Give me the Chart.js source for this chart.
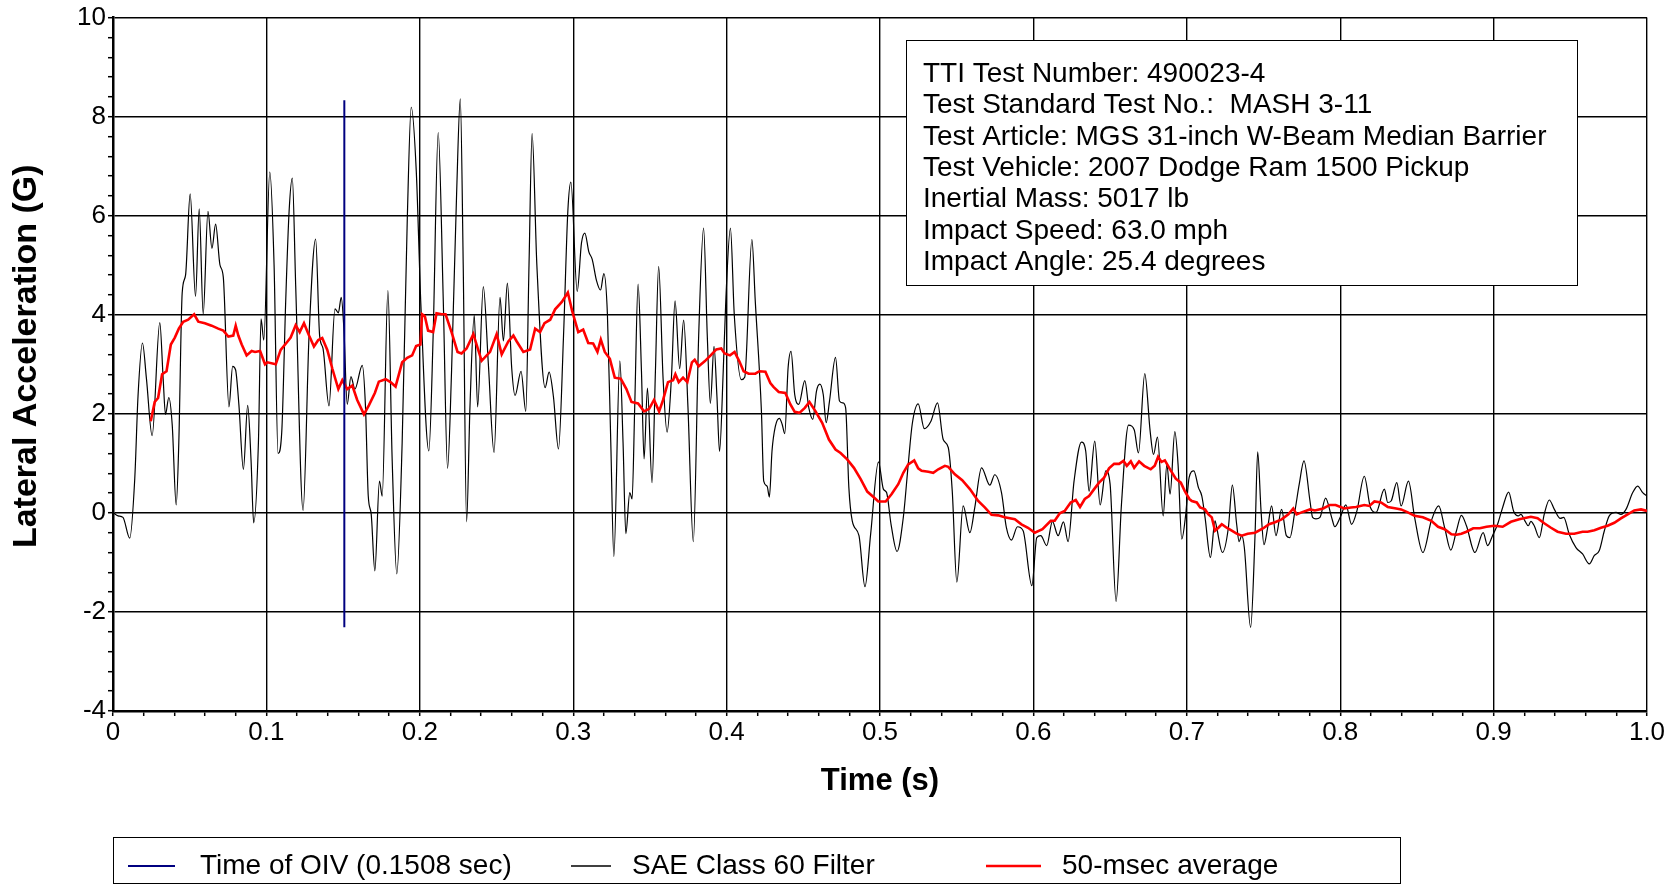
<!DOCTYPE html>
<html>
<head>
<meta charset="utf-8">
<title>Lateral Acceleration</title>
<script src="https://cdn.jsdelivr.net/npm/chart.js@4.4.1/dist/chart.umd.min.js"></script>
<style>
  html, body { margin: 0; padding: 0; background: #fff; }
  #wrap { width: 1679px; height: 885px; }
</style>
</head>
<body>
<div id="wrap"><canvas id="chart" width="1679" height="885"></canvas></div>
<script>
// SAE Class 60 filtered lateral acceleration (time s, accel G)
const sae60Time = [
  0, .0033, .0065, .0109, .0142, .0163, .0192, .0218, .0255, .0305, .0327, .0342, .0364, .0386, .0412, .0429,
  .0451, .0473, .0503, .0538, .0562, .0588, .0619, .0645, .0669, .0697, .0719, .0756, .0780, .0799, .0821, .0850,
  .0878, .0900, .0917, .0948, .0965, .0983, .1022, .1050, .1076, .1100, .1126, .1148, .1169, .1191, .1239, .1278,
  .1321, .1347, .1369, .1408, .1447, .1469, .1488, .1505, .1527, .1551, .1577, .1625, .1646, .1664, .1683, .1707,
  .1737, .1755, .1792, .1820, .1850, .1885, .1918, .1944, .1977, .2007, .2059, .2087, .2120, .2153, .2181, .2207,
  .2240, .2264, .2283, .2305, .2327, .2355, .2377, .2414, .2447, .2484, .2523, .2545, .2571, .2599, .2621, .2660,
  .2691, .2712, .2732, .2763, .2817, .2843, .2871, .2904, .2937, .2965, .2985, .3026, .3054, .3076, .3102, .3124,
  .3152, .3178, .3200, .3223, .3245, .3265, .3304, .3325, .3343, .3369, .3384, .3401, .3423, .3445, .3462, .3484,
  .3514, .3536, .3557, .3586, .3612, .3640, .3664, .3694, .3720, .3748, .3783, .3818, .3850, .3874, .3894, .3918,
  .3937, .3954, .3978, .3995, .4025, .4050, .4096, .4118, .4165, .4187, .4227, .4242, .4264, .4279, .4296, .4318,
  .4344, .4362, .4379, .4401, .4420, .4444, .4470, .4510, .4536, .4562, .4586, .4608, .4630, .4649, .4671, .4710,
  .4736, .4758, .4776, .4797, .4819, .4863, .4902, .4939, .4990, .5022, .5043, .5072, .5111, .5152, .5184, .5210,
  .5249, .5289, .5332, .5375, .5412, .5445, .5471, .5501, .5542, .5586, .5618, .5662, .5716, .5748, .5792, .5824,
  .5857, .5896, .5933, .5990, .6022, .6048, .6087, .6124, .6161, .6196, .6226, .6265, .6313, .6341, .6363, .6400,
  .6435, .6472, .6500, .6539, .6574, .6620, .6657, .6685, .6726, .6761, .6783, .6809, .6846, .6870, .6891, .6922,
  .6943, .6967, .6993, .7015, .7046, .7076, .7098, .7119, .7154, .7184, .7195, .7232, .7271, .7297, .7325, .7341,
  .7358, .7375, .7416, .7445, .7462, .7484, .7503, .7527, .7553, .7581, .7618, .7649, .7672, .7705, .7733, .7764,
  .7803, .7820, .7842, .7868, .7905, .7944, .7965, .8000, .8037, .8074, .8109, .8157, .8197, .8234, .8288, .8310,
  .8332, .8369, .8397, .8445, .8485, .8539, .8594, .8642, .8681, .8721, .8758, .8790, .8823, .8878, .8932, .8961,
  .8993, .9026, .9059, .9098, .9130, .9161, .9178, .9204, .9226, .9243, .9265, .9298, .9330, .9363, .9396, .9435,
  .9457, .9493, .9537, .9580, .9624, .9657, .9689, .9722, .9754, .9798, .9830, .9863, .9907, .9939, .9972, 1.0
];
const sae60Accel = [
  0.01, -0.06, -0.09, -0.51, 0.70, 2.35, 3.43, 2.71, 1.56, 3.84, 2.71, 1.99, 2.33, 1.78, 0.16, 1.42,
  4.44, 4.80, 6.44, 4.37, 6.14, 4.01, 6.09, 5.34, 5.83, 5.01, 4.76, 2.14, 2.96, 2.89, 2.17, 0.88,
  2.17, 1.06, -0.20, 1.42, 3.92, 3.49, 6.88, 5.01, 1.20, 1.63, 4.29, 6.09, 6.76, 4.58, 0.05, 3.58,
  5.53, 3.58, 3.32, 2.16, 4.12, 4.04, 4.35, 3.72, 2.19, 2.75, 2.50, 2.98, 2.14, 0.34, -0.02, -1.17,
  0.64, 0.34, 4.49, 1.06, -1.23, 1.42, 5.88, 8.19, 6.90, 4.20, 1.25, 3.58, 7.68, 4.29, 0.90, 2.86,
  6.45, 8.36, 5.01, -0.18, 2.14, 3.99, 2.14, 4.57, 3.00, 1.22, 4.35, 3.47, 4.64, 2.93, 2.37, 2.86,
  2.05, 5.01, 7.66, 5.01, 2.53, 2.84, 2.35, 1.29, 3.58, 6.09, 6.68, 4.47, 5.45, 5.65, 5.27, 5.12,
  4.69, 4.50, 4.83, 4.01, 1.42, -0.88, 3.07, 1.42, -0.42, 0.41, 0.28, 2.14, 4.62, 2.86, 1.09, 2.52,
  0.61, 2.86, 4.98, 2.71, 1.63, 2.71, 4.28, 2.91, 3.89, 2.14, -0.58, 3.58, 5.75, 3.58, 2.21, 3.36,
  2.35, 1.24, 2.86, 4.30, 5.75, 4.00, 2.69, 2.74, 5.52, 4.27, 2.05, 0.64, 0.54, 0.32, 1.25, 1.75,
  1.91, 1.79, 1.60, 2.93, 3.26, 2.39, 2.19, 2.67, 2.12, 1.89, 2.46, 2.60, 2.39, 1.82, 2.26, 3.14,
  2.26, 2.22, 2.12, 0.51, -0.16, -0.46, -1.49, -0.43, 1.03, 0.48, 0.41, -0.23, -0.78, -0.09, 0.98, 1.79,
  2.20, 1.70, 1.85, 2.22, 1.48, 1.32, 0.44, -1.40, 0.14, -0.40, 0.11, 0.91, 0.56, 0.77, 0.41, -0.30,
  -0.55, -0.28, -0.36, -1.47, -0.50, -0.46, -0.66, -0.17, -0.46, -0.18, -0.58, 0.64, 1.43, 1.25, 0.44, 1.45,
  0.16, 0.85, 0.58, -1.79, 0.17, 1.77, 1.68, 1.21, 2.81, 1.65, 1.18, 1.53, -0.06, 0.98, 0.38, 1.64,
  0.98, -0.53, -0.03, 0.71, 0.85, 0.51, 0.34, -0.09, -0.90, -0.16, -0.30, -0.80, -0.30, 0.56, -0.23, -0.58,
  -0.46, -0.70, -2.31, -0.43, 1.23, 0.04, -0.64, -0.30, 0.14, -0.46, 0.07, -0.46, -0.50, 0.04, 0.58, 1.05,
  0.24, -0.09, -0.12, -0.09, 0.30, -0.09, -0.28, -0.09, 0.16, -0.23, 0.04, 0.74, 0.11, 0.01, 0.48, 0.21,
  0.24, 0.61, 0.14, 0.64, -0.09, -0.80, -0.16, 0.14, -0.30, -0.75, -0.36, -0.05, -0.26, -0.80, -0.40, -0.66,
  -0.46, -0.23, 0.11, 0.42, 0.04, -0.06, -0.03, -0.16, -0.26, -0.17, -0.26, -0.50, -0.03, 0.26, 0.07, -0.11,
  -0.09, -0.43, -0.70, -0.83, -1.03, -0.86, -0.76, -0.36, -0.06, 0.01, -0.03, 0.07, 0.41, 0.54, 0.41, 0.34
];

// 50-msec moving average
const avg50Time = [
  .0246, .0272, .0294, .0320, .0349, .0377, .0403, .0429, .0458, .0490, .0529, .0556, .0599, .0643, .0686, .0719,
  .0752, .0784, .0800, .0817, .0839, .0871, .0904, .0926, .0959, .0991, .1007, .1061, .1093, .1130, .1158, .1191,
  .1217, .1245, .1278, .1310, .1338, .1364, .1397, .1430, .1469, .1495, .1527, .1560, .1592, .1636, .1668, .1707,
  .1733, .1777, .1809, .1842, .1885, .1918, .1950, .1976, .2004, .2015, .2033, .2054, .2087, .2109, .2142, .2168,
  .2207, .2246, .2272, .2305, .2349, .2403, .2458, .2501, .2534, .2577, .2610, .2632, .2675, .2719, .2752, .2784,
  .2813, .2850, .2882, .2926, .2965, .2993, .3033, .3065, .3098, .3130, .3158, .3180, .3206, .3239, .3271, .3310,
  .3347, .3380, .3423, .3462, .3495, .3527, .3560, .3586, .3618, .3651, .3666, .3688, .3716, .3744, .3774, .3792,
  .3818, .3857, .3896, .3933, .3965, .3987, .4022, .4052, .4083, .4111, .4144, .4187, .4214, .4253, .4285, .4307,
  .4340, .4383, .4416, .4444, .4475, .4510, .4540, .4580, .4623, .4667, .4710, .4743, .4786, .4830, .4874, .4917,
  .4961, .4989, .5037, .5076, .5119, .5152, .5184, .5223, .5249, .5271, .5315, .5347, .5380, .5423, .5445, .5488,
  .5536, .5586, .5640, .5683, .5727, .5770, .5813, .5879, .5922, .5965, .6009, .6059, .6113, .6139, .6172, .6204,
  .6243, .6276, .6304, .6335, .6363, .6396, .6428, .6461, .6493, .6526, .6559, .6587, .6609, .6635, .6657, .6689,
  .6722, .6765, .6791, .6813, .6835, .6857, .6891, .6928, .6961, .6987, .7017, .7033, .7065, .7087, .7119, .7141,
  .7163, .7184, .7206, .7228, .7260, .7293, .7325, .7358, .7397, .7445, .7499, .7536, .7575, .7618, .7662, .7694,
  .7716, .7748, .7803, .7835, .7889, .7933, .7970, .8026, .8070, .8103, .8157, .8190, .8223, .8266, .8310, .8365,
  .8397, .8441, .8485, .8539, .8594, .8638, .8681, .8725, .8758, .8790, .8823, .8867, .8910, .8954, .9004, .9059,
  .9113, .9167, .9243, .9287, .9330, .9374, .9417, .9472, .9526, .9580, .9613, .9657, .9700, .9743, .9787, .9830,
  .9874, .9917, .9961, 1.0
];
const avg50Accel = [
  1.85, 2.24, 2.32, 2.80, 2.86, 3.40, 3.54, 3.72, 3.86, 3.90, 4.01, 3.86, 3.83, 3.78, 3.72, 3.68,
  3.56, 3.58, 3.78, 3.58, 3.40, 3.18, 3.27, 3.25, 3.27, 3.00, 3.04, 3.00, 3.29, 3.43, 3.54, 3.79,
  3.65, 3.83, 3.58, 3.36, 3.49, 3.53, 3.29, 2.91, 2.50, 2.68, 2.50, 2.57, 2.28, 1.99, 2.17, 2.42,
  2.65, 2.70, 2.64, 2.55, 3.04, 3.13, 3.18, 3.37, 3.40, 4.01, 3.97, 3.68, 3.65, 4.03, 4.01, 4.01,
  3.65, 3.25, 3.22, 3.32, 3.61, 3.07, 3.25, 3.61, 3.20, 3.46, 3.58, 3.46, 3.25, 3.30, 3.72, 3.65,
  3.83, 3.90, 4.11, 4.26, 4.45, 4.08, 3.65, 3.70, 3.43, 3.42, 3.25, 3.50, 3.25, 3.11, 2.73, 2.71,
  2.50, 2.24, 2.21, 2.05, 2.10, 2.28, 2.05, 2.28, 2.64, 2.68, 2.80, 2.64, 2.73, 2.64, 3.04, 3.09,
  2.96, 3.06, 3.18, 3.30, 3.32, 3.22, 3.18, 3.25, 3.06, 2.86, 2.81, 2.81, 2.86, 2.85, 2.62, 2.54,
  2.44, 2.42, 2.19, 2.04, 2.02, 2.12, 2.24, 2.05, 1.82, 1.48, 1.28, 1.21, 1.08, 0.91, 0.68, 0.43,
  0.31, 0.23, 0.23, 0.38, 0.58, 0.81, 0.98, 1.06, 0.90, 0.85, 0.83, 0.81, 0.88, 0.95, 0.93, 0.78,
  0.66, 0.48, 0.24, 0.11, -0.04, -0.05, -0.09, -0.13, -0.23, -0.30, -0.40, -0.33, -0.16, -0.16, -0.01, 0.04,
  0.21, 0.26, 0.12, 0.28, 0.34, 0.48, 0.61, 0.71, 0.90, 0.99, 0.99, 1.05, 0.95, 1.04, 0.91, 1.04,
  0.95, 0.88, 0.95, 1.13, 1.03, 1.06, 0.88, 0.69, 0.61, 0.44, 0.28, 0.24, 0.21, 0.11, 0.07, -0.03,
  -0.09, -0.36, -0.30, -0.23, -0.30, -0.36, -0.42, -0.46, -0.42, -0.40, -0.31, -0.23, -0.19, -0.13, -0.03, 0.09,
  -0.03, 0.01, 0.07, 0.05, 0.09, 0.16, 0.16, 0.09, 0.11, 0.12, 0.16, 0.14, 0.23, 0.21, 0.12, 0.09,
  0.07, 0.01, -0.06, -0.09, -0.16, -0.28, -0.33, -0.43, -0.44, -0.42, -0.38, -0.31, -0.31, -0.28, -0.26, -0.28,
  -0.18, -0.13, -0.08, -0.11, -0.21, -0.30, -0.38, -0.42, -0.42, -0.38, -0.38, -0.35, -0.30, -0.26, -0.20, -0.11,
  -0.03, 0.05, 0.07, 0.04
];

// time of occupant impact velocity, marker spans this accel range
const oivTime = 0.1508;
const oivAccel = [8.33, -2.31];

const seriesLabels = ['Time of OIV (0.1508 sec)', 'SAE Class 60 Filter', '50-msec average'];
const seriesColors = ['#000080', '#000000', '#ff0000'];

const testInfo = [
  'TTI Test Number: 490023-4',
  'Test Standard Test No.:  MASH 3-11',
  'Test Article: MGS 31-inch W-Beam Median Barrier',
  'Test Vehicle: 2007 Dodge Ram 1500 Pickup',
  'Inertial Mass: 5017 lb',
  'Impact Speed: 63.0 mph',
  'Impact Angle: 25.4 degrees'
];

const yTitle = 'Lateral Acceleration (G)';

const FONT = '"Liberation Sans", Arial, Helvetica, sans-serif';

function pairs(xs, ys) {
  return xs.map((x, i) => ({ x: x, y: ys[i] }));
}

function isMajor(v, step) {
  const r = v / step;
  return Math.abs(r - Math.round(r)) < 1e-6;
}

// y title, info box and bottom legend
const extras = {
  id: 'extras',
  afterDraw(chart) {
    const ctx = chart.ctx;
    const area = chart.chartArea;
    ctx.save();

    ctx.fillStyle = '#000';
    ctx.textBaseline = 'middle';
    ctx.textAlign = 'center';
    ctx.font = 'bold 34px ' + FONT;
    ctx.save();
    ctx.translate(27, (area.top + area.bottom) / 2 - 8);
    ctx.rotate(-Math.PI / 2);
    ctx.fillText(yTitle, 0, 0);
    ctx.restore();

    // test info box
    const bx = 906, by = 40, bw = 671, bh = 245;
    ctx.fillStyle = '#fff';
    ctx.fillRect(bx, by, bw, bh);
    ctx.strokeStyle = '#000';
    ctx.lineWidth = 1;
    ctx.strokeRect(bx + 0.5, by + 0.5, bw, bh);
    ctx.fillStyle = '#000';
    ctx.font = '28px ' + FONT;
    ctx.textAlign = 'left';
    testInfo.forEach((line, i) => {
      ctx.fillText(line, bx + 17, by + 34 + i * 31.4);
    });

    // legend
    const lx = area.left, ly = 837, lw = 1287, lh = 48;
    ctx.strokeRect(lx + 0.5, ly + 0.5, lw, lh - 2);
    const items = [
      { x0: 128, x1: 175, tx: 200, w: 2 },
      { x0: 571, x1: 611, tx: 632, w: 1.3 },
      { x0: 986, x1: 1041, tx: 1062, w: 2.5 }
    ];
    const cy = 866;
    items.forEach((it, i) => {
      const ds = chart.data.datasets[i];
      ctx.strokeStyle = ds.borderColor;
      ctx.lineWidth = it.w;
      ctx.beginPath();
      ctx.moveTo(it.x0, cy);
      ctx.lineTo(it.x1, cy);
      ctx.stroke();
      ctx.fillStyle = '#000';
      ctx.fillText(ds.label, it.tx, cy);
    });
    ctx.restore();
  }
};

const ctx = document.getElementById('chart').getContext('2d');
new Chart(ctx, {
  type: 'line',
  data: {
    datasets: [
      {
        label: seriesLabels[0],
        data: pairs([oivTime, oivTime], oivAccel),
        borderColor: seriesColors[0],
        borderWidth: 2,
        pointRadius: 0,
        order: 0
      },
      {
        label: seriesLabels[1],
        data: pairs(sae60Time, sae60Accel),
        borderColor: seriesColors[1],
        borderWidth: 1.2,
        pointRadius: 0,
        cubicInterpolationMode: 'monotone',
        order: 2
      },
      {
        label: seriesLabels[2],
        data: pairs(avg50Time, avg50Accel),
        borderColor: seriesColors[2],
        borderWidth: 2.6,
        pointRadius: 0,
        tension: 0,
        order: 1
      }
    ]
  },
  options: {
    responsive: false,
    animation: false,
    devicePixelRatio: 1,
    layout: { padding: { top: 16, right: 32, left: 0, bottom: 0 } },
    plugins: {
      legend: { display: false },
      tooltip: { enabled: false }
    },
    scales: {
      x: {
        type: 'linear',
        min: 0,
        max: 1,
        afterFit(scale) { scale.height = 174; },
        border: { color: '#000', width: 2.5 },
        grid: {
          color: c => (c.tick && isMajor(c.tick.value, 0.1) ? '#000' : 'rgba(0,0,0,0)'),
          lineWidth: 1.4,
          tickColor: '#000',
          tickWidth: 1.5,
          tickLength: 5
        },
        ticks: {
          stepSize: 0.02,
          autoSkip: false,
          maxRotation: 0,
          padding: 1,
          color: '#000',
          font: { family: FONT, size: 26 },
          callback: v => (isMajor(v, 0.1) ? (v === 0 ? '0' : v.toFixed(1)) : '')
        },
        title: {
          display: true,
          text: 'Time (s)',
          color: '#000',
          font: { family: FONT, size: 31, weight: 'bold' },
          padding: { top: 0, bottom: 85 }
        }
      },
      y: {
        min: -4,
        max: 10,
        afterFit(scale) { scale.width = 113; },
        border: { color: '#000', width: 2.5 },
        grid: {
          color: c => (c.tick && isMajor(c.tick.value, 2) ? '#000' : 'rgba(0,0,0,0)'),
          lineWidth: 1.4,
          tickColor: '#000',
          tickWidth: 1.5,
          tickLength: 5
        },
        ticks: {
          stepSize: 0.4,
          autoSkip: false,
          padding: 2,
          color: '#000',
          font: { family: FONT, size: 26 },
          callback: v => (isMajor(v, 2) ? String(Math.round(v)) : '')
        }
      }
    }
  },
  plugins: [extras]
});
</script>
</body>
</html>
